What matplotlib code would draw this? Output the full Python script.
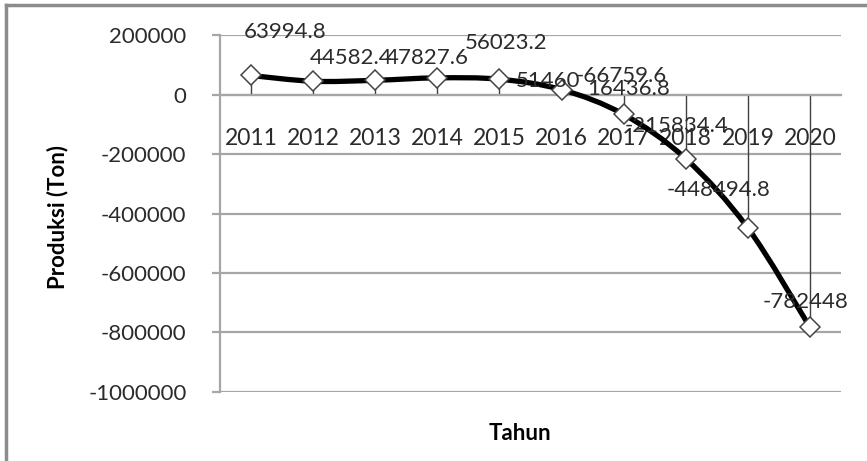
import matplotlib.pyplot as plt
import numpy as np
from matplotlib.path import Path
from matplotlib.patches import PathPatch
from matplotlib.lines import Line2D

plt.rcParams['font.family'] = ['Lato', 'DejaVu Sans']

years = ["2011", "2012", "2013", "2014", "2015", "2016", "2017", "2018", "2019", "2020"]
produksi = [63994.8, 44582.4, 47827.6, 56023.2, 51460.0, 16436.8,
            -66759.6, -215834.4, -448494.8, -782448.0]

# where each data label sits relative to its point (pixels), as in the source
label_offsets = [(34, 43), (38, 23), (52, 22), (69, 35), (49, -2),
                 (67, 1), (-2, 38), (-9, 33), (-29, 38), (-4, 25)]

txt = "#2b2b2b"
grid = "#a6a6a6"

fig = plt.figure(figsize=(8.67, 4.61), dpi=100)
ax = fig.add_axes([0.2537, 0.1497, 0.9700 - 0.2537, 0.924 - 0.1497])

x = np.arange(len(years))
y = np.array(produksi)

# drop lines to the category axis at 0
ax.vlines(x, 0, y, colors="#404040", linewidth=1, zorder=2)

# smoothed line (bezier through the points, like Excel's smoothing)
verts = [(x[0], y[0])]
codes = [Path.MOVETO]
n = len(x)
for i in range(n - 1):
    p0 = np.array([x[max(i - 1, 0)], y[max(i - 1, 0)]])
    p1 = np.array([x[i], y[i]])
    p2 = np.array([x[i + 1], y[i + 1]])
    p3 = np.array([x[min(i + 2, n - 1)], y[min(i + 2, n - 1)]])
    c1 = p1 + (p2 - p0) / 6
    c2 = p2 - (p3 - p1) / 6
    verts += [tuple(c1), tuple(c2), tuple(p2)]
    codes += [Path.CURVE4] * 3
ax.add_patch(PathPatch(Path(verts, codes), facecolor="none", edgecolor="black",
                       linewidth=3.8, capstyle="round", joinstyle="round", zorder=3))

ax.plot(x, y, linestyle="none", marker="D", markersize=10.5, markerfacecolor="white",
        markeredgecolor="#454545", markeredgewidth=1.1, zorder=4)

for xi, yi, (dx, dy) in zip(x, y, label_offsets):
    s = f"{yi:.1f}".rstrip("0").rstrip(".")
    ax.annotate(s, (xi, yi), xytext=(dx, dy), textcoords="offset pixels",
                ha="center", va="center", fontsize=16, color=txt, zorder=5)

ax.set_xlim(-0.5, len(years) - 0.5)
ax.set_ylim(-1000000, 200000)
ax.set_yticks(np.arange(-1000000, 200001, 200000))
ax.set_yticklabels([f"{v:d}" for v in range(-1000000, 200001, 200000)])
ax.yaxis.grid(True, color=grid, linewidth=1.6)
ax.set_axisbelow(True)

ax.set_xticks(x)
ax.set_xticklabels(years)
ax.spines["bottom"].set_position(("data", 0))
ax.spines["bottom"].set_color(grid)
ax.spines["bottom"].set_linewidth(1.6)
for side in ["top", "right"]:
    ax.spines[side].set_visible(False)
ax.spines["left"].set_color(grid)
ax.spines["left"].set_linewidth(1.6)

ax.tick_params(axis="x", length=0, pad=24, labelsize=16.5, labelcolor=txt)
ax.tick_params(axis="y", length=6, width=1.6, color=grid, pad=18,
               labelsize=16, labelcolor=txt)

fig.text(0.0669, 0.529, "Produksi (Ton)", rotation=90, ha="center", va="center",
         fontsize=16, fontweight="bold", color="black")
fig.text(0.5998, 0.0586, "Tahun", ha="center", va="center",
         fontsize=16, fontweight="bold", color="black")

# outer chart frame (only left and top edges are visible in the source)
fig.add_artist(Line2D([0.007, 0.007], [0.0, 0.989], color="#8c8c8c", linewidth=2.5,
                      transform=fig.transFigure))
fig.add_artist(Line2D([0.007, 1.0], [0.989, 0.989], color="#8c8c8c", linewidth=2.5,
                      transform=fig.transFigure))

fig.savefig("out.png", dpi=100)
